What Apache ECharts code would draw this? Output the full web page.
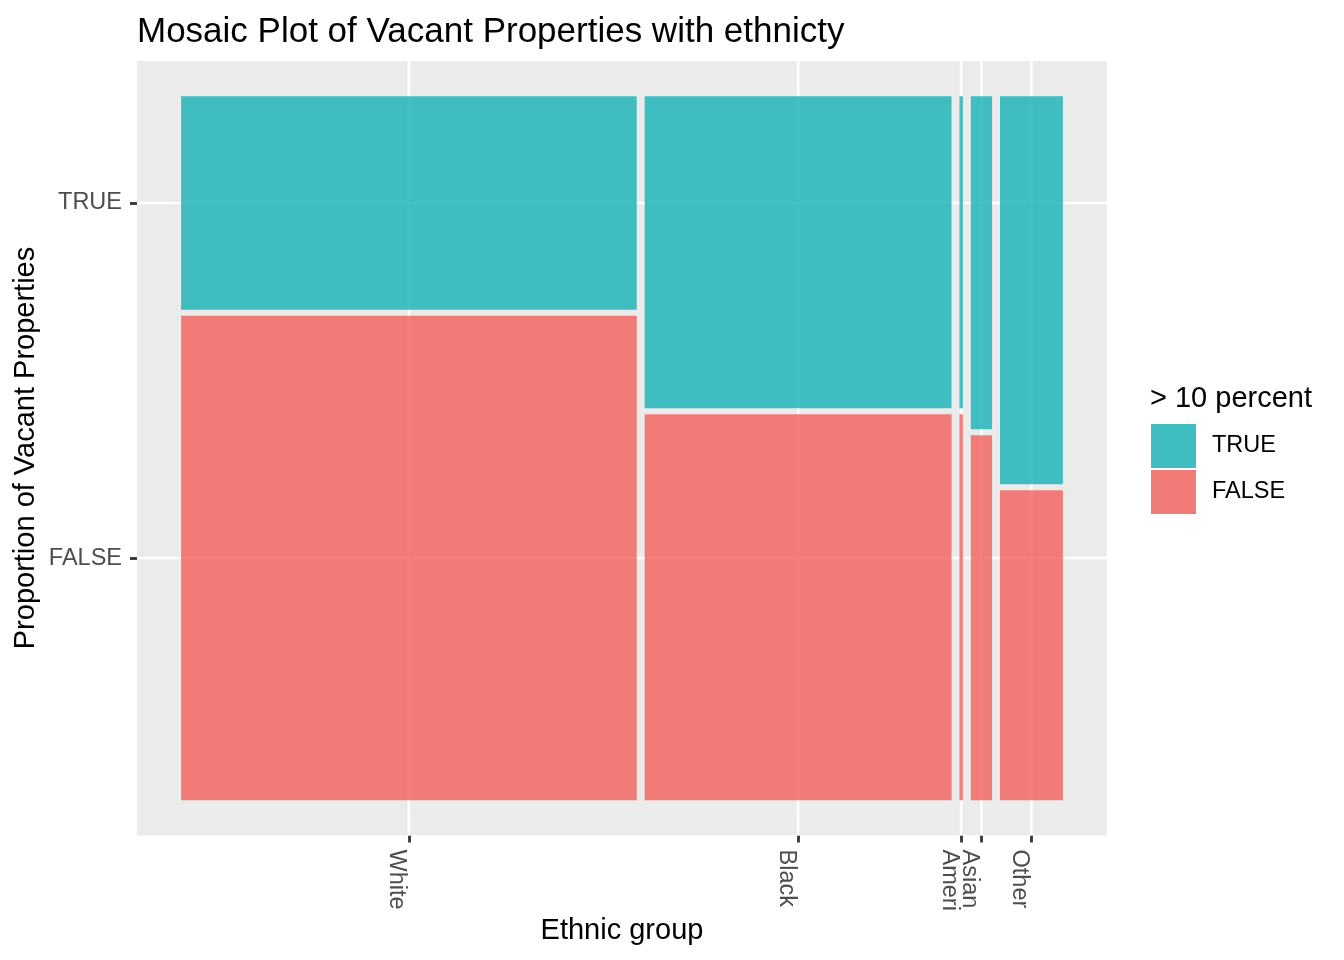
<!DOCTYPE html>
<html><head><meta charset="utf-8">
<script src="https://cdn.jsdelivr.net/npm/echarts@6/dist/echarts.min.js"></script>
<style>html,body{margin:0;padding:0;background:#fff}#c{width:1344px;height:960px}</style>
</head><body><div id="c"></div>
<script>
// ---- data ----
const categories = ['White', 'Black', 'Ameri', 'Asian', 'Other'];
const columnShare = [0.536, 0.361, 0.004, 0.025, 0.074];   // share of properties per ethnic group
const trueShare = [0.306, 0.447, 0.447, 0.477, 0.556];     // share with > 10 percent vacant
const fillLevels = ['TRUE', 'FALSE'];
const yTickLabels = ['TRUE', 'FALSE'];
const gapX = 0.009, gapY = 0.0085;

const FONT = "'Liberation Sans', Arial, Helvetica, sans-serif";
const colTrue = 'rgba(34,181,186,0.85)';
const colFalse = 'rgba(242,104,99,0.85)';
const keyTrue = 'rgb(64,189,193)';
const keyFalse = 'rgb(241,124,119)';

// ---- mosaic geometry (data units) ----
const usableX = 1 - gapX * (categories.length - 1);
const usableY = 1 - gapY;
let cursor = 0;
const trueRects = [], falseRects = [], xCenters = [];
categories.forEach((c, i) => {
  const w = columnShare[i] * usableX;
  const x0 = cursor, x1 = cursor + w;
  xCenters.push((x0 + x1) / 2);
  const fh = (1 - trueShare[i]) * usableY;
  falseRects.push([x0, x1, 0, fh, i]);
  trueRects.push([x0, x1, fh + gapY, 1, i]);
  cursor = x1 + gapX;
});
const yCenters = [(trueRects[0][2] + 1) / 2, falseRects[0][3] / 2];

const gridLines = [];
xCenters.forEach(v => gridLines.push([v, -0.05, v, 1.05]));
yCenters.forEach(v => gridLines.push([-0.05, v, 1.05, v]));

function nearest(arr, v) {
  let best = 0;
  arr.forEach((a, i) => { if (Math.abs(a - v) < Math.abs(arr[best] - v)) best = i; });
  return best;
}

function renderRect(params, api) {
  const p0 = api.coord([api.value(0), api.value(3)]);
  const p1 = api.coord([api.value(1), api.value(2)]);
  return {
    type: 'rect',
    shape: { x: p0[0], y: p0[1], width: p1[0] - p0[0], height: p1[1] - p0[1] },
    style: { fill: api.visual('color') }
  };
}
function renderLine(params, api) {
  const a = api.coord([api.value(0), api.value(1)]);
  const b = api.coord([api.value(2), api.value(3)]);
  return {
    type: 'line',
    shape: { x1: a[0], y1: a[1], x2: b[0], y2: b[1] },
    style: { stroke: '#FFFFFF', lineWidth: 2.6 }
  };
}

const chart = echarts.init(document.getElementById('c'));
chart.setOption({
  animation: false,
  backgroundColor: '#FFFFFF',
  grid: { left: 137, right: 237, top: 61, bottom: 124.5, show: true, backgroundColor: '#EBEBEB', borderWidth: 0 },
  xAxis: {
    type: 'value', min: -0.05, max: 1.05,
    axisLine: { show: false, onZero: false },
    splitLine: { show: false },
    axisTick: { show: true, customValues: xCenters, length: 7, lineStyle: { color: '#333333', width: 2.8 } },
    axisLabel: {
      customValues: xCenters, rotate: -90, verticalAlign: 'top', margin: 14,
      color: '#4D4D4D', fontSize: 23.5, fontFamily: FONT,
      formatter: v => categories[nearest(xCenters, v)]
    }
  },
  yAxis: {
    type: 'value', min: -0.05, max: 1.05,
    axisLine: { show: false, onZero: false },
    splitLine: { show: false },
    axisTick: { show: true, customValues: yCenters, length: 7, lineStyle: { color: '#333333', width: 2.8 } },
    axisLabel: {
      customValues: yCenters, margin: 15, padding: [4, 0, 0, 0],
      color: '#4D4D4D', fontSize: 23.5, fontFamily: FONT,
      formatter: v => yTickLabels[nearest(yCenters, v)]
    }
  },
  legend: {
    orient: 'vertical', left: 1151, top: 424, padding: 0,
    itemWidth: 45, itemHeight: 44, itemGap: 2, icon: 'rect', selectedMode: false,
    textStyle: { fontSize: 23.5, color: '#000', fontFamily: FONT, padding: [6, 0, 0, 11] },
    data: [
      { name: fillLevels[0], itemStyle: { color: keyTrue } },
      { name: fillLevels[1], itemStyle: { color: keyFalse } }
    ]
  },
  graphic: [
    { type: 'text', x: 137, y: 32, style: { text: 'Mosaic Plot of Vacant Properties with ethnicty', font: '35px ' + FONT, fill: '#000', align: 'left', verticalAlign: 'middle' } },
    { type: 'text', x: 622, y: 931, style: { text: 'Ethnic group', font: '29px ' + FONT, fill: '#000', align: 'center', verticalAlign: 'middle' } },
    { type: 'text', x: 26, y: 448, rotation: Math.PI / 2, style: { text: 'Proportion of Vacant Properties', font: '29px ' + FONT, fill: '#000', align: 'center', verticalAlign: 'middle' } },
    { type: 'text', x: 1150, y: 399, style: { text: '> 10 percent', font: '29px ' + FONT, fill: '#000', align: 'left', verticalAlign: 'middle' } }
  ],
  series: [
    { type: 'custom', name: 'grid', silent: true, z: 1, renderItem: renderLine, data: gridLines, encode: { x: [0, 2], y: [1, 3] } },
    { type: 'custom', name: fillLevels[0], z: 2, itemStyle: { color: colTrue }, renderItem: renderRect, data: trueRects, encode: { x: [0, 1], y: [2, 3] } },
    { type: 'custom', name: fillLevels[1], z: 2, itemStyle: { color: colFalse }, renderItem: renderRect, data: falseRects, encode: { x: [0, 1], y: [2, 3] } }
  ]
});
</script>
</body></html>
